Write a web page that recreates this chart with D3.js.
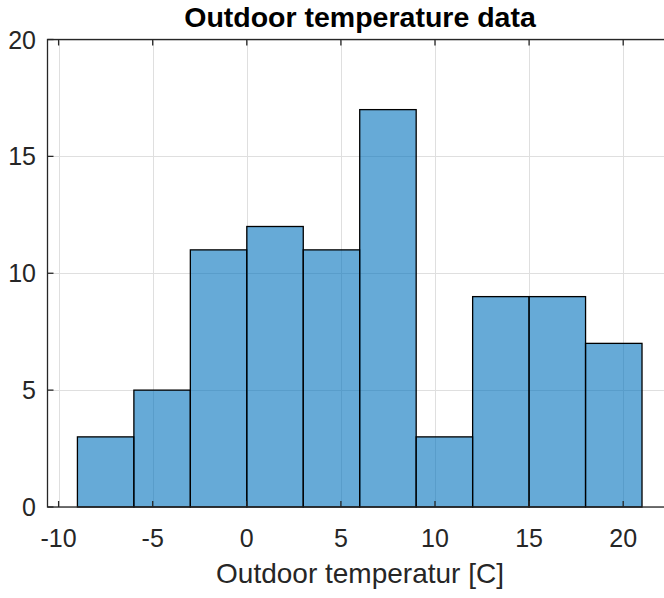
<!DOCTYPE html>
<html>
<head>
<meta charset="utf-8">
<script src="https://cdn.jsdelivr.net/npm/d3@7"></script>
<style>
  body { margin: 0; background: #fff; }
  text { font-family: "Liberation Sans", Arial, Helvetica, sans-serif; fill: #262626; }
</style>
</head>
<body>
<script>
// histogram bins (edges) and counts
var binEdges = [-9, -6, -3, 0, 3, 6, 9, 12, 15, 18, 21];
var counts = [3, 5, 11, 12, 11, 17, 3, 9, 9, 7];
var xTicks = [-10, -5, 0, 5, 10, 15, 20];
var yTicks = [0, 5, 10, 15, 20];
var title = "Outdoor temperature data";
var xLabel = "Outdoor temperatur [C]";

var bins = counts.map(function (c, i) { return { x0: binEdges[i], x1: binEdges[i + 1], n: c }; });

var svg = d3.select('body').append('svg')
  .attr('width', 664)
  .attr('height', 598);

// axes box (right side runs past the picture edge, as in the reference)
var axL = 47.5, axR = 672.5, axT = 39.5, axB = 507;

var x = d3.scaleLinear().domain([-10.59, 22.62]).range([axL, axR]);
var y = d3.scaleLinear().domain([0, 20]).range([axB, axT]);

var axisColor = "#262626";

// grid
svg.append("g")
  .selectAll("line")
  .data(xTicks)
  .enter().append("line")
  .attr("x1", function (d) { return Math.round(x(d)) + 0.5; })
  .attr("x2", function (d) { return Math.round(x(d)) + 0.5; })
  .attr("y1", axT).attr("y2", axB)
  .attr("stroke", "#dfdfdf").attr("stroke-width", 1);

svg.append("g")
  .selectAll("line")
  .data(yTicks)
  .enter().append("line")
  .attr("x1", axL).attr("x2", axR)
  .attr("y1", function (d) { return Math.round(y(d)) + 0.5; })
  .attr("y2", function (d) { return Math.round(y(d)) + 0.5; })
  .attr("stroke", "#dfdfdf").attr("stroke-width", 1);

// bars
svg.append("g")
  .selectAll("rect")
  .data(bins)
  .enter().append("rect")
  .attr("x", function (d) { return x(d.x0); })
  .attr("y", function (d) { return y(d.n); })
  .attr("width", function (d) { return x(d.x1) - x(d.x0); })
  .attr("height", function (d) { return y(0) - y(d.n); })
  .attr("fill", "#0072BD")
  .attr("fill-opacity", 0.6)
  .attr("stroke", "#000")
  .attr("stroke-width", 1.3);

// axes box
svg.append("rect")
  .attr("x", axL).attr("y", axT)
  .attr("width", axR - axL).attr("height", axB - axT)
  .attr("fill", "none")
  .attr("stroke", axisColor)
  .attr("stroke-width", 1.3);

// ticks pointing inward
var tl = 6;
svg.append("g").selectAll("line")
  .data(xTicks).enter().append("line")
  .attr("x1", function (d) { return x(d); }).attr("x2", function (d) { return x(d); })
  .attr("y1", axB).attr("y2", axB - tl)
  .attr("stroke", axisColor).attr("stroke-width", 1.3);
svg.append("g").selectAll("line")
  .data(xTicks).enter().append("line")
  .attr("x1", function (d) { return x(d); }).attr("x2", function (d) { return x(d); })
  .attr("y1", axT).attr("y2", axT + tl)
  .attr("stroke", axisColor).attr("stroke-width", 1.3);
svg.append("g").selectAll("line")
  .data(yTicks).enter().append("line")
  .attr("x1", axL).attr("x2", axL + tl)
  .attr("y1", function (d) { return y(d); }).attr("y2", function (d) { return y(d); })
  .attr("stroke", axisColor).attr("stroke-width", 1.3);

// tick labels
svg.append("g").selectAll("text")
  .data(xTicks).enter().append("text")
  .attr("x", function (d) { return x(d); })
  .attr("y", 547)
  .attr("font-size", 25)
  .attr("text-anchor", "middle")
  .text(function (d) { return d; });

svg.append("g").selectAll("text")
  .data(yTicks).enter().append("text")
  .attr("x", 36)
  .attr("y", function (d) { return y(d); })
  .attr("dy", "0.36em")
  .attr("font-size", 25)
  .attr("text-anchor", "end")
  .text(function (d) { return d; });

// title and label
svg.append("text")
  .attr("x", (axL + axR) / 2)
  .attr("y", 27)
  .attr("font-size", 28.5)
  .attr("font-weight", "bold")
  .attr("text-anchor", "middle")
  .style("fill", "#000")
  .text(title);

svg.append("text")
  .attr("x", (axL + axR) / 2)
  .attr("y", 583)
  .attr("font-size", 28)
  .attr("text-anchor", "middle")
  .text(xLabel);
</script>
</body>
</html>
